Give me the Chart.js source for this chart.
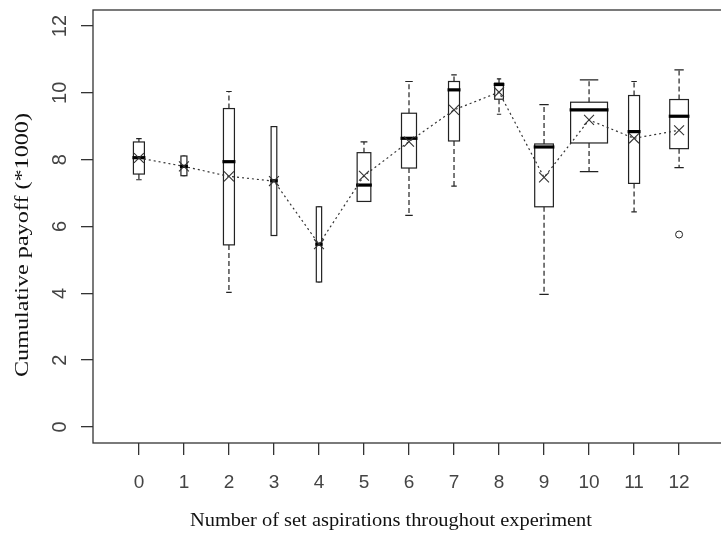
<!DOCTYPE html>
<html>
<head>
<meta charset="utf-8">
<script src="https://cdn.jsdelivr.net/npm/chart.js@4.4.1/dist/chart.umd.min.js"></script>
<style>
  html, body { margin: 0; padding: 0; background: #fff; overflow: hidden; }
</style>
</head>
<body>
<canvas id="boxChart" width="740" height="538"></canvas>
<script>
// number of set aspirations (groups on the x axis)
const groups = [0, 1, 2, 3, 4, 5, 6, 7, 8, 9, 10, 11, 12];

// box statistics, cumulative payoff (*1000)
const whiskerLo = [7.40, 7.52, 4.03, 5.73, 4.34, 6.75, 6.33, 7.21, 9.36, 3.97, 7.64, 6.44, 7.76];
const q1 = [7.57, 7.52, 5.45, 5.73, 4.34, 6.75, 7.75, 8.56, 9.81, 6.59, 8.50, 7.29, 8.33];
const medians = [8.06, 7.80, 7.94, 7.37, 5.47, 7.24, 8.64, 10.09, 10.25, 8.38, 9.49, 8.84, 9.30];
const q3 = [8.53, 8.11, 9.53, 8.99, 6.59, 8.21, 9.39, 10.34, 10.29, 8.47, 9.72, 9.92, 9.80];
const whiskerHi = [8.63, 8.11, 10.04, 8.99, 6.59, 8.53, 10.34, 10.54, 10.42, 9.65, 10.39, 10.34, 10.69];
const means = [8.05, 7.80, 7.50, 7.36, 5.47, 7.52, 8.54, 9.49, 10.02, 7.47, 9.19, 8.64, 8.88];
const outlierGroups = [12];
const outlierValues = [5.76];

// y axis tick labels
const yTicks = [0, 2, 4, 6, 8, 10, 12];

const xTitle = 'Number of set aspirations throughout experiment';
const yTitle = 'Cumulative payoff (*1000)';

// box widths (in group units, varwidth style)
const boxWidths = [0.244, 0.133, 0.244, 0.126, 0.118, 0.304, 0.333, 0.244, 0.193, 0.415, 0.82, 0.244, 0.415];

const tickFont = { family: '"Liberation Sans", Arial, sans-serif', size: 19 };
const titleFamily = '"Liberation Serif", "Times New Roman", serif';

// draws a title stretched to a given length (the original labels run wide)
function drawTitle(ctx, text, cx, cy, len, rotate) {
  ctx.save();
  ctx.font = '19px ' + titleFamily;
  ctx.fillStyle = '#111';
  ctx.textAlign = 'center';
  ctx.textBaseline = 'middle';
  const w = ctx.measureText(text).width;
  ctx.translate(cx, cy);
  if (rotate) ctx.rotate(-Math.PI / 2);
  ctx.scale(len / w, 1);
  ctx.fillText(text, 0, 0);
  ctx.restore();
}

// draws the boxes/whiskers/medians with the chart's scales
const boxPlugin = {
  id: 'boxes',
  beforeDatasetsDraw(chart) {
    const { ctx, scales: { x, y } } = chart;
    ctx.save();
    ctx.strokeStyle = '#222';
    groups.forEach((g, i) => {
      const cx = x.getPixelForValue(g);
      const half = x.getPixelForValue(g + boxWidths[i] / 2) - cx;
      const yq1 = y.getPixelForValue(q1[i]);
      const yq3 = y.getPixelForValue(q3[i]);
      const ylo = y.getPixelForValue(whiskerLo[i]);
      const yhi = y.getPixelForValue(whiskerHi[i]);
      const ymed = y.getPixelForValue(medians[i]);

      // whiskers (dashed)
      ctx.lineWidth = 1.2;
      ctx.setLineDash([5, 3]);
      ctx.beginPath();
      ctx.moveTo(cx, yq3); ctx.lineTo(cx, yhi);
      ctx.moveTo(cx, yq1); ctx.lineTo(cx, ylo);
      ctx.stroke();
      ctx.setLineDash([]);

      // staples
      ctx.beginPath();
      ctx.moveTo(cx - half / 2, yhi); ctx.lineTo(cx + half / 2, yhi);
      ctx.moveTo(cx - half / 2, ylo); ctx.lineTo(cx + half / 2, ylo);
      ctx.stroke();

      // box
      ctx.fillStyle = '#fff';
      ctx.fillRect(cx - half, yq3, half * 2, yq1 - yq3);
      ctx.strokeRect(cx - half, yq3, half * 2, yq1 - yq3);

      // median
      ctx.lineWidth = 3.2;
      ctx.strokeStyle = '#000';
      ctx.beginPath();
      ctx.moveTo(cx - half - 1, ymed); ctx.lineTo(cx + half + 1, ymed);
      ctx.stroke();
      ctx.strokeStyle = '#222';
    });

    // outliers
    ctx.lineWidth = 1;
    outlierGroups.forEach((g, i) => {
      ctx.beginPath();
      ctx.arc(x.getPixelForValue(g), y.getPixelForValue(outlierValues[i]), 3.5, 0, Math.PI * 2);
      ctx.stroke();
    });
    ctx.restore();
  },
  afterDraw(chart) {
    const { ctx, chartArea, scales: { y } } = chart;
    ctx.save();
    // frame round the plot
    ctx.strokeStyle = '#333';
    ctx.lineWidth = 1.3;
    ctx.strokeRect(chartArea.left, chartArea.top, chartArea.right - chartArea.left, chartArea.bottom - chartArea.top);

    // rotated y tick labels
    ctx.fillStyle = '#444';
    ctx.font = '20px ' + tickFont.family;
    ctx.textAlign = 'center';
    ctx.textBaseline = 'middle';
    y.ticks.forEach(t => {
      ctx.save();
      ctx.translate(60, y.getPixelForValue(t.value));
      ctx.rotate(-Math.PI / 2);
      ctx.fillText(String(t.value), 0, 0);
      ctx.restore();
    });
    ctx.restore();

    drawTitle(ctx, xTitle, 391, 521, 402, false);
    drawTitle(ctx, yTitle, 23, 245, 264, true);
  }
};

const ctx = document.getElementById('boxChart');
new Chart(ctx, {
  type: 'line',
  data: {
    datasets: [{
      label: 'Mean',
      data: groups.map((g, i) => ({ x: g, y: means[i] })),
      borderColor: '#333',
      borderWidth: 1.2,
      borderDash: [2, 3],
      pointStyle: 'crossRot',
      pointRadius: 7,
      pointBorderColor: '#333',
      pointBorderWidth: 1.1,
      pointBackgroundColor: '#333',
      tension: 0
    }]
  },
  options: {
    responsive: false,
    animation: false,
    devicePixelRatio: 1,
    layout: { padding: { top: 10, right: 15, left: 0, bottom: 0 } },
    plugins: {
      legend: { display: false },
      tooltip: { enabled: false }
    },
    scales: {
      x: {
        type: 'linear',
        min: -1.02,
        max: 13.02,
        afterBuildTicks: (scale) => { scale.ticks = groups.map(v => ({ value: v })); },
        afterFit: (scale) => { scale.height = 95; },
        grid: { display: true, drawOnChartArea: false, drawTicks: true, tickLength: 12, color: '#333', lineWidth: 1.3 },
        border: { display: false },
        ticks: { font: tickFont, color: '#444', padding: 16, maxRotation: 0, autoSkip: false },
        title: { display: false }
      },
      y: {
        type: 'linear',
        min: -0.48,
        max: 12.48,
        afterBuildTicks: (scale) => { scale.ticks = yTicks.map(v => ({ value: v })); },
        afterFit: (scale) => { scale.width = 93; },
        grid: { display: true, drawOnChartArea: false, drawTicks: true, tickLength: 12, color: '#333', lineWidth: 1.3 },
        border: { display: false },
        ticks: { display: false },
        title: { display: false }
      }
    }
  },
  plugins: [boxPlugin]
});
</script>
</body>
</html>
